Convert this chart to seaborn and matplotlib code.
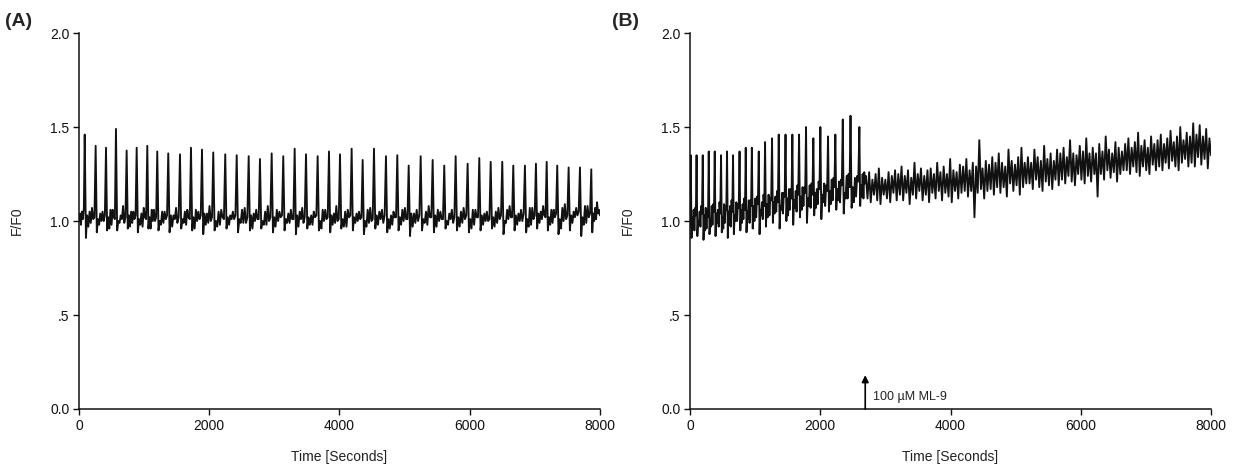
import numpy as np
import pandas as pd
import matplotlib
matplotlib.use("Agg")
import matplotlib.pyplot as plt
import seaborn as sns

# ---- panel A: spontaneous Ca2+ oscillations ----
a_spike_t = [88, 256, 415, 568, 732, 886, 1049, 1202, 1371, 1551, 1720, 1889, 2062, 2246,
             2422, 2606, 2779, 2959, 3137, 3312, 3486, 3665, 3839, 4008, 4187, 4356, 4530,
             4714, 4888, 5063, 5247, 5431, 5609, 5784, 5968, 6147, 6322, 6500, 6669, 6848,
             7017, 7182, 7344, 7519, 7693, 7867]
a_peak = [1.46, 1.40, 1.39, 1.49, 1.375, 1.39, 1.40, 1.37, 1.36, 1.355, 1.39, 1.38, 1.365,
          1.355, 1.35, 1.345, 1.33, 1.36, 1.345, 1.385, 1.355, 1.345, 1.37, 1.355, 1.385,
          1.325, 1.385, 1.345, 1.35, 1.295, 1.345, 1.325, 1.295, 1.345, 1.305, 1.335, 1.315,
          1.315, 1.295, 1.295, 1.305, 1.315, 1.295, 1.285, 1.285, 1.275]
a_trough = [0.91, 0.94, 0.95, 0.95, 0.96, 0.94, 0.96, 0.95, 0.94, 0.96, 0.95, 0.93, 0.95,
            0.96, 0.94, 0.95, 0.96, 0.94, 0.95, 0.93, 0.96, 0.95, 0.94, 0.96, 0.95, 0.93,
            0.96, 0.94, 0.95, 0.92, 0.95, 0.94, 0.96, 0.95, 0.94, 0.95, 0.96, 0.93, 0.95,
            0.94, 0.96, 0.95, 0.93, 0.95, 0.92, 0.94]
a_mid1 = [1.03, 1.01, 1.02, 1.00, 1.03, 1.01, 1.02, 1.00, 1.03, 1.01, 1.02, 1.04, 1.00,
          1.02, 1.01, 1.03, 1.00, 1.02, 1.01, 1.03, 1.02, 1.00, 1.03, 1.01, 1.02, 1.00,
          1.03, 1.01, 1.02, 1.04, 1.01, 1.03, 1.00, 1.02, 1.01, 1.03, 1.02, 1.00, 1.03,
          1.01, 1.04, 1.02, 1.01, 1.03, 1.02, 1.04]
a_mid2 = [0.97, 0.98, 0.96, 0.99, 0.97, 0.98, 0.96, 0.98, 0.97, 0.99, 0.96, 0.98, 0.97,
          0.98, 0.99, 0.96, 0.98, 0.97, 0.99, 0.97, 0.98, 0.96, 0.98, 0.97, 0.99, 0.97,
          0.98, 0.96, 0.98, 0.97, 0.99, 0.97, 0.98, 0.97, 0.96, 0.98, 0.97, 0.99, 0.98,
          0.97, 0.99, 0.98, 0.96, 0.99, 0.98, 1.00]
a_mid3 = [1.05, 1.04, 1.06, 1.03, 1.05, 1.04, 1.06, 1.05, 1.03, 1.05, 1.06, 1.04, 1.05,
          1.03, 1.06, 1.04, 1.05, 1.06, 1.04, 1.05, 1.03, 1.06, 1.04, 1.05, 1.04, 1.06,
          1.05, 1.03, 1.06, 1.04, 1.05, 1.06, 1.04, 1.05, 1.06, 1.04, 1.05, 1.06, 1.04,
          1.07, 1.05, 1.06, 1.07, 1.05, 1.08, 1.07]
a_mid4 = [0.99, 1.00, 0.98, 1.01, 0.99, 0.97, 1.00, 0.99, 1.01, 0.98, 1.00, 0.99, 0.98,
          1.01, 0.99, 1.00, 0.98, 1.00, 0.99, 1.01, 0.98, 1.00, 0.99, 0.97, 1.00, 0.99,
          1.01, 0.98, 1.00, 0.99, 0.98, 1.00, 1.01, 0.99, 0.98, 1.00, 0.99, 1.01, 1.00,
          0.98, 1.01, 0.99, 1.00, 1.02, 0.99, 1.01]
a_mid5 = [1.07, 1.05, 1.06, 1.08, 1.05, 1.07, 1.06, 1.05, 1.07, 1.06, 1.05, 1.08, 1.06,
          1.05, 1.07, 1.06, 1.08, 1.05, 1.06, 1.07, 1.05, 1.06, 1.08, 1.06, 1.05, 1.07,
          1.06, 1.05, 1.07, 1.06, 1.08, 1.05, 1.06, 1.07, 1.06, 1.05, 1.07, 1.08, 1.06,
          1.07, 1.08, 1.06, 1.09, 1.07, 1.08, 1.10]
a_mid6 = [1.01, 1.00, 1.02, 0.99, 1.01, 1.02, 1.00, 1.01, 0.99, 1.02, 1.01, 1.00, 1.02,
          1.01, 0.99, 1.01, 1.00, 1.02, 1.01, 0.99, 1.02, 1.01, 1.00, 1.02, 1.01, 1.00,
          0.99, 1.02, 1.01, 1.00, 1.02, 1.01, 0.99, 1.01, 1.02, 1.00, 1.01, 1.02, 1.00,
          1.01, 1.03, 1.02, 1.01, 1.03, 1.02, 1.04]
a_pre = [1.02, 1.03, 1.01, 1.02, 1.03, 1.01, 1.02, 1.03, 1.02, 1.01, 1.03, 1.02, 1.01,
         1.03, 1.02, 1.01, 1.02, 1.03, 1.01, 1.02, 1.03, 1.02, 1.01, 1.03, 1.02, 1.01,
         1.03, 1.02, 1.01, 1.03, 1.02, 1.01, 1.02, 1.03, 1.02, 1.01, 1.03, 1.02, 1.04,
         1.03, 1.02, 1.04, 1.03, 1.05, 1.04, 1.06]
a_start_t = [0, 15, 30, 45, 60, 75]
a_start_v = [1.00, 1.04, 0.98, 1.05, 1.01, 1.07]

# ---- panel B: oscillations, then 100 uM ML-9 ----
b_spike_t = [11, 100, 195, 287, 379, 476, 568, 660, 760, 855, 949, 1055, 1152, 1259,
             1362, 1466, 1571, 1674, 1781, 1893, 2001, 2119, 2231, 2345, 2464, 2600]
b_peak = [1.35, 1.35, 1.35, 1.37, 1.37, 1.35, 1.37, 1.35, 1.37, 1.39, 1.39, 1.37, 1.42,
          1.44, 1.46, 1.46, 1.46, 1.46, 1.50, 1.44, 1.50, 1.45, 1.46, 1.54, 1.56, 1.50]
b_trough = [0.91, 0.92, 0.90, 0.93, 0.92, 0.94, 0.91, 0.93, 0.95, 0.94, 0.96, 0.93, 0.97,
            0.99, 0.96, 1.00, 0.98, 1.02, 0.99, 1.03, 1.01, 1.05, 1.06, 1.04, 1.07, 1.08]
b_mid1 = [1.02, 1.00, 1.03, 1.01, 1.04, 1.02, 1.05, 1.03, 1.06, 1.05, 1.08, 1.06, 1.09,
          1.10, 1.08, 1.12, 1.11, 1.13, 1.12, 1.15, 1.14, 1.16, 1.17, 1.15, 1.18, 1.19]
b_mid2 = [0.96, 0.98, 0.95, 0.97, 0.99, 0.96, 0.98, 1.00, 0.99, 1.01, 1.00, 1.03, 1.02,
          1.04, 1.06, 1.03, 1.07, 1.06, 1.08, 1.07, 1.10, 1.09, 1.11, 1.12, 1.10, 1.13]
b_mid3 = [1.06, 1.05, 1.07, 1.08, 1.06, 1.09, 1.08, 1.10, 1.09, 1.11, 1.12, 1.10, 1.14,
          1.13, 1.15, 1.17, 1.16, 1.18, 1.19, 1.17, 1.20, 1.22, 1.21, 1.24, 1.23, 1.25]
b_mid4 = [0.95, 0.97, 0.96, 0.98, 0.97, 0.99, 0.97, 1.00, 1.01, 0.99, 1.02, 1.01, 1.03,
          1.05, 1.04, 1.06, 1.05, 1.08, 1.07, 1.09, 1.08, 1.11, 1.10, 1.12, 1.13, 1.12]
b_mid5 = [1.07, 1.08, 1.06, 1.09, 1.10, 1.08, 1.11, 1.09, 1.12, 1.11, 1.13, 1.14, 1.12,
          1.16, 1.15, 1.17, 1.19, 1.18, 1.20, 1.21, 1.19, 1.23, 1.22, 1.25, 1.24, 1.26]
b_pre = [1.03, 1.04, 1.02, 1.05, 1.04, 1.06, 1.05, 1.07, 1.06, 1.08, 1.09, 1.08, 1.11,
         1.10, 1.13, 1.12, 1.14, 1.15, 1.14, 1.17, 1.16, 1.18, 1.19, 1.18, 1.21, 1.20]
b_start_t = [0]
b_start_v = [0.97]
# noisy plateau after the oscillations stop (2700 s .. 8000 s): upper / lower excursions
b_band_hi = [1.24, 1.26, 1.22, 1.25, 1.28, 1.23, 1.22, 1.26, 1.24, 1.27,
             1.25, 1.29, 1.24, 1.27, 1.23, 1.31, 1.25, 1.28, 1.24, 1.27,
             1.28, 1.25, 1.31, 1.26, 1.29, 1.25, 1.33, 1.27, 1.26, 1.30,
             1.29, 1.33, 1.27, 1.31, 1.29, 1.43, 1.28, 1.32, 1.30, 1.34,
             1.31, 1.36, 1.31, 1.29, 1.38, 1.32, 1.30, 1.34, 1.39, 1.31,
             1.34, 1.31, 1.38, 1.34, 1.32, 1.40, 1.33, 1.36, 1.32, 1.38,
             1.36, 1.39, 1.34, 1.43, 1.36, 1.35, 1.40, 1.37, 1.44, 1.36,
             1.39, 1.36, 1.41, 1.37, 1.45, 1.38, 1.36, 1.42, 1.39, 1.37,
             1.41, 1.44, 1.39, 1.42, 1.47, 1.40, 1.43, 1.39, 1.45, 1.41,
             1.43, 1.46, 1.41, 1.44, 1.48, 1.42, 1.45, 1.50, 1.43, 1.47,
             1.45, 1.52, 1.46, 1.51, 1.45, 1.49, 1.44]
b_band_lo = [1.12, 1.10, 1.14, 1.11, 1.09, 1.14, 1.12, 1.10, 1.15, 1.11,
             1.14, 1.11, 1.15, 1.09, 1.14, 1.12, 1.16, 1.11, 1.14, 1.10,
             1.15, 1.12, 1.16, 1.11, 1.15, 1.13, 1.10, 1.16, 1.12, 1.15,
             1.16, 1.13, 1.16, 1.02, 1.15, 1.17, 1.12, 1.16, 1.17, 1.14,
             1.18, 1.15, 1.18, 1.13, 1.20, 1.16, 1.19, 1.14, 1.18, 1.20,
             1.20, 1.17, 1.22, 1.18, 1.16, 1.21, 1.19, 1.17, 1.22, 1.19,
             1.22, 1.20, 1.24, 1.21, 1.19, 1.25, 1.22, 1.20, 1.24, 1.21,
             1.25, 1.13, 1.25, 1.22, 1.27, 1.23, 1.26, 1.21, 1.25, 1.27,
             1.27, 1.25, 1.29, 1.26, 1.24, 1.29, 1.27, 1.25, 1.30, 1.27,
             1.29, 1.27, 1.31, 1.28, 1.32, 1.29, 1.27, 1.31, 1.33, 1.29,
             1.31, 1.29, 1.34, 1.30, 1.33, 1.28, 1.35]
b_band_start, b_band_end = 2700, 8000
drug_t = 2690
drug_label = "100 \u00b5M ML-9"

y_ticks = [0.0, 0.5, 1.0, 1.5, 2.0]
y_tick_labels = ["0.0", ".5", "1.0", "1.5", "2.0"]
x_ticks = [0, 2000, 4000, 6000, 8000]


def build_trace(start_t, start_v, spike_t, cycles, end_t):
    # cycles: per-spike value lists, each cycle runs from one spike to the next
    t, v = list(start_t), list(start_v)
    ends = list(spike_t[1:]) + [end_t]
    for k in range(len(spike_t)):
        vals = [c[k] for c in cycles]
        t.extend(np.linspace(spike_t[k], ends[k], len(vals) + 1)[:-1])
        v.extend(vals)
    return t, v


ta, va = build_trace(a_start_t, a_start_v, a_spike_t,
                     [a_peak, a_trough, a_mid1, a_mid2, a_mid3, a_mid4, a_mid5, a_mid6, a_pre],
                     8000)
ta.append(8000)
va.append(1.03)
df_a = pd.DataFrame({"time": ta, "ratio": va})

tb, vb = build_trace(b_start_t, b_start_v, b_spike_t,
                     [b_peak, b_trough, b_mid1, b_mid2, b_mid3, b_mid4, b_mid5, b_pre],
                     b_band_start)
band = np.column_stack([b_band_hi, b_band_lo]).ravel()
tb.extend(np.linspace(b_band_start, b_band_end, len(band)))
vb.extend(band)
df_b = pd.DataFrame({"time": tb, "ratio": vb})

sns.set_theme(style="ticks")
plt.rcParams["font.family"] = ["Liberation Sans", "DejaVu Sans"]

fig = plt.figure(figsize=(12.36, 4.67), dpi=100)
ax_a = fig.add_axes([0.0639, 0.1242, 0.4215, 0.805])
ax_b = fig.add_axes([0.5583, 0.1242, 0.4215, 0.805])

for ax, df in [(ax_a, df_a), (ax_b, df_b)]:
    sns.lineplot(data=df, x="time", y="ratio", ax=ax, color="#111111", lw=1.35,
                 estimator=None, sort=False)
    ax.set_xlim(0, 8000)
    ax.set_ylim(0, 2.0)
    ax.set_xticks(x_ticks)
    ax.set_yticks(y_ticks)
    ax.set_yticklabels(y_tick_labels)
    ax.tick_params(direction="out", length=4, width=1, labelsize=10, colors="#111111", pad=3)
    sns.despine(ax=ax)
    for s in ["left", "bottom"]:
        ax.spines[s].set_linewidth(1.1)
        ax.spines[s].set_color("#111111")
    ax.set_xlabel("Time [Seconds]", fontsize=10, color="#222222")
    ax.set_ylabel("F/F0", fontsize=10, color="#222222")
    ax.xaxis.set_label_coords(0.5, -0.11)
    ax.yaxis.set_label_coords(-0.105, 0.5)

ax_b.annotate("", xy=(drug_t, 0.18), xytext=(drug_t, 0.0),
              arrowprops=dict(arrowstyle="-|>", color="black", lw=1.2, mutation_scale=10,
                              shrinkA=0, shrinkB=0))
ax_b.text(drug_t + 120, 0.065, drug_label, fontsize=9, va="center", ha="left", color="#222222")

fig.text(0.004, 0.955, "(A)", fontsize=14, fontweight="bold", va="center")
fig.text(0.495, 0.955, "(B)", fontsize=14, fontweight="bold", va="center")

fig.savefig("out.png", dpi=100)
